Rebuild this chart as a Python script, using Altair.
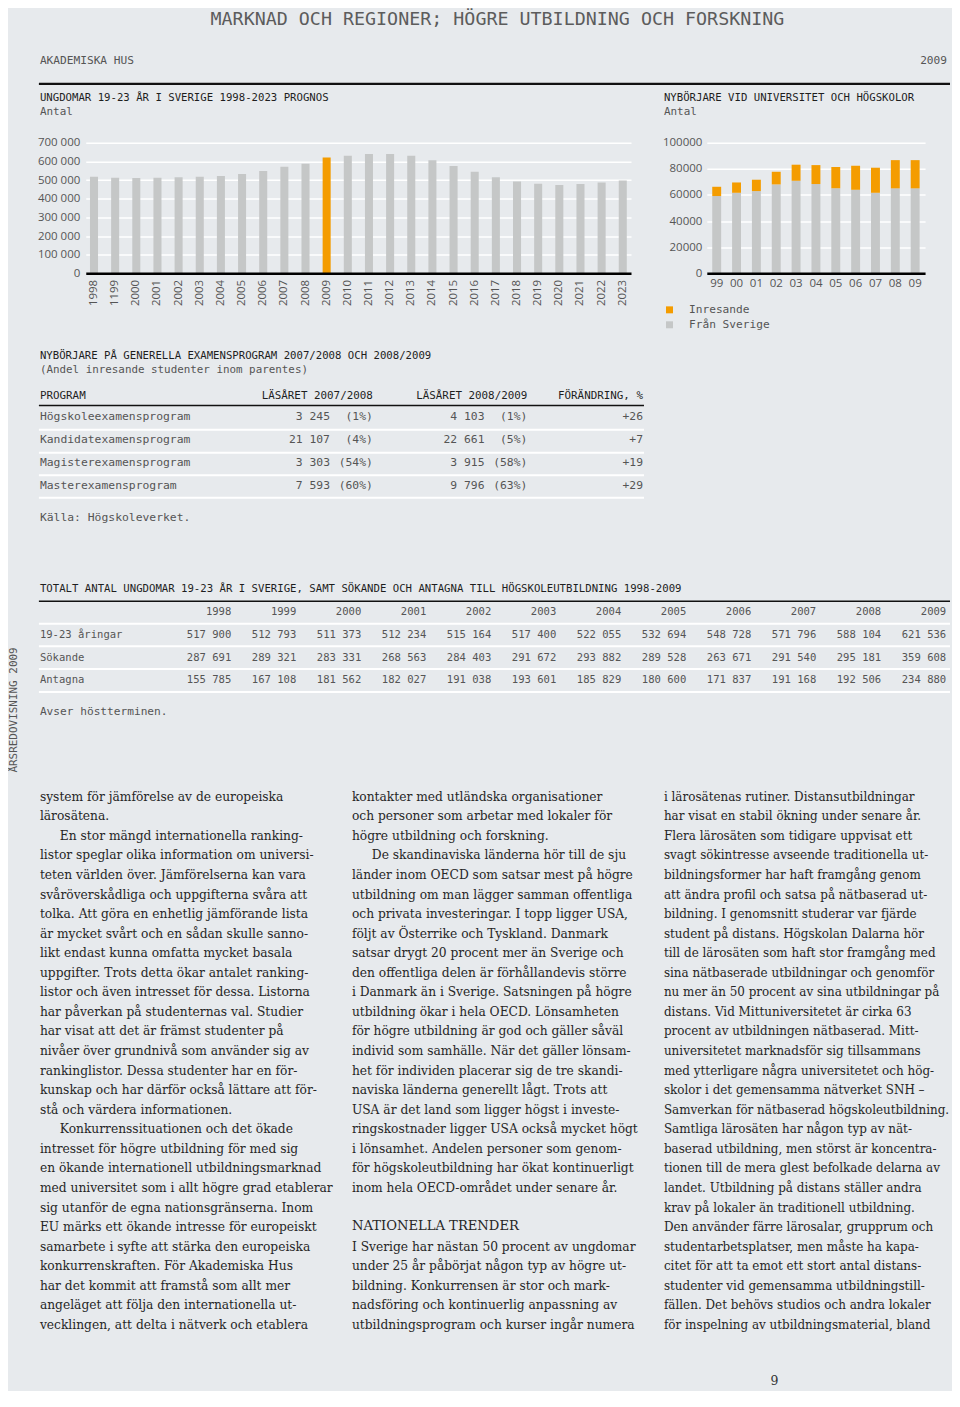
import altair as alt
import pandas as pd

# ---------------- texts & data ----------------
PAGE_TITLE = "MARKNAD OCH REGIONER; HÖGRE UTBILDNING OCH FORSKNING"
PUBLISHER = "AKADEMISKA HUS"
PUB_YEAR = "2009"
CHART1_TITLE = "UNGDOMAR 19-23 ÅR I SVERIGE 1998-2023 PROGNOS"
CHART2_TITLE = "NYBÖRJARE VID UNIVERSITET OCH HÖGSKOLOR"
UNIT = "Antal"
SIDE_TEXT = "ÅRSREDOVISNING 2009"
PAGE_NO = "9"

# Chart 1: 19-23 year olds (the reference labels 1999 as "1199")
years1 = ["1998", "1199", "2000", "2001", "2002", "2003", "2004", "2005", "2006",
          "2007", "2008", "2009", "2010", "2011", "2012", "2013", "2014", "2015",
          "2016", "2017", "2018", "2019", "2020", "2021", "2022", "2023"]
youth = [517900, 512793, 511373, 512234, 515164, 517400, 522055, 532694, 548728,
         571796, 588104, 621536, 630000, 640000, 640000, 631000, 606000, 576000,
         544000, 515000, 492000, 480000, 474000, 479000, 487000, 498000]
highlight_year = "2009"
y1_ticks = [0, 100000, 200000, 300000, 400000, 500000, 600000, 700000]

# Chart 2: new entrants
years2 = ["99", "00", "01", "02", "03", "04", "05", "06", "07", "08", "09"]
fran_sverige = [59200, 61700, 63000, 68100, 70900, 68400, 65100, 64000, 61700, 65100, 65100]
inresande = [7100, 7900, 8700, 9700, 12300, 14500, 16300, 18400, 19200, 21600, 21600]
series2 = ["Inresande", "Från Sverige"]
y2_ticks = [0, 20000, 40000, 60000, 80000, 100000]

# Table 1
T1_TITLE = "NYBÖRJARE PÅ GENERELLA EXAMENSPROGRAM 2007/2008 OCH 2008/2009"
T1_SUB = "(Andel inresande studenter inom parentes)"
t1_header = ["PROGRAM", "LÄSÅRET 2007/2008", "LÄSÅRET 2008/2009", "FÖRÄNDRING, %"]
programs = ["Högskoleexamensprogram", "Kandidatexamensprogram",
            "Magisterexamensprogram", "Masterexamensprogram"]
n0708 = ["3 245", "21 107", "3 303", "7 593"]
p0708 = ["(1%)", "(4%)", "(54%)", "(60%)"]
n0809 = ["4 103", "22 661", "3 915", "9 796"]
p0809 = ["(1%)", "(5%)", "(58%)", "(63%)"]
change = ["+26", "+7", "+19", "+29"]
T1_SOURCE = "Källa: Högskoleverket."

# Table 2
T2_TITLE = ("TOTALT ANTAL UNGDOMAR 19-23 ÅR I SVERIGE, SAMT SÖKANDE OCH ANTAGNA "
            "TILL HÖGSKOLEUTBILDNING 1998-2009")
t2_years = ["1998", "1999", "2000", "2001", "2002", "2003", "2004", "2005",
            "2006", "2007", "2008", "2009"]
t2_rows = ["19-23 åringar", "Sökande", "Antagna"]
aringar = ["517 900", "512 793", "511 373", "512 234", "515 164", "517 400",
           "522 055", "532 694", "548 728", "571 796", "588 104", "621 536"]
sokande = ["287 691", "289 321", "283 331", "268 563", "284 403", "291 672",
           "293 882", "289 528", "263 671", "291 540", "295 181", "359 608"]
antagna = ["155 785", "167 108", "181 562", "182 027", "191 038", "193 601",
           "185 829", "180 600", "171 837", "191 168", "192 506", "234 880"]
T2_NOTE = "Avser höstterminen."

# Body text
col1_lines = [
    "system för jämförelse av de europeiska",
    "lärosätena.",
    "En stor mängd internationella ranking-",
    "listor speglar olika information om universi-",
    "teten världen över. Jämförelserna kan vara",
    "svåröverskådliga och uppgifterna svåra att",
    "tolka. Att göra en enhetlig jämförande lista",
    "är mycket svårt och en sådan skulle sanno-",
    "likt endast kunna omfatta mycket basala",
    "uppgifter. Trots detta ökar antalet ranking-",
    "listor och även intresset för dessa. Listorna",
    "har påverkan på studenternas val. Studier",
    "har visat att det är främst studenter på",
    "nivåer över grundnivå som använder sig av",
    "rankinglistor. Dessa studenter har en för-",
    "kunskap och har därför också lättare att för-",
    "stå och värdera informationen.",
    "Konkurrenssituationen och det ökade",
    "intresset för högre utbildning för med sig",
    "en ökande internationell utbildningsmarknad",
    "med universitet som i allt högre grad etablerar",
    "sig utanför de egna nationsgränserna. Inom",
    "EU märks ett ökande intresse för europeiskt",
    "samarbete i syfte att stärka den europeiska",
    "konkurrenskraften. För Akademiska Hus",
    "har det kommit att framstå som allt mer",
    "angeläget att följa den internationella ut-",
    "vecklingen, att delta i nätverk och etablera",
]
col1_indents = [2, 17]
col2_lines_a = [
    "kontakter med utländska organisationer",
    "och personer som arbetar med lokaler för",
    "högre utbildning och forskning.",
    "De skandinaviska länderna hör till de sju",
    "länder inom OECD som satsar mest på högre",
    "utbildning om man lägger samman offentliga",
    "och privata investeringar. I topp ligger USA,",
    "följt av Österrike och Tyskland. Danmark",
    "satsar drygt 20 procent mer än Sverige och",
    "den offentliga delen är förhållandevis större",
    "i Danmark än i Sverige. Satsningen på högre",
    "utbildning ökar i hela OECD.  Lönsamheten",
    "för högre utbildning är god och gäller såväl",
    "individ som samhälle. När det gäller lönsam-",
    "het för individen placerar sig de tre skandi-",
    "naviska länderna generellt lågt. Trots att",
    "USA är det land som ligger högst i investe-",
    "ringskostnader ligger USA också mycket högt",
    "i lönsamhet. Andelen personer som genom-",
    "för högskoleutbildning har ökat kontinuerligt",
    "inom hela OECD-området under senare år.",
]
col2_indents = [3]
COL2_HEADING = "NATIONELLA TRENDER"
col2_lines_b = [
    "I Sverige har nästan 50 procent av ungdomar",
    "under 25 år påbörjat någon typ av högre ut-",
    "bildning. Konkurrensen är stor och mark-",
    "nadsföring och kontinuerlig anpassning av",
    "utbildningsprogram och kurser ingår numera",
]
col3_lines = [
    "i lärosätenas rutiner. Distansutbildningar",
    "har visat en stabil ökning under senare år.",
    "Flera lärosäten som tidigare uppvisat ett",
    "svagt sökintresse avseende traditionella ut-",
    "bildningsformer har haft framgång genom",
    "att ändra profil och satsa på nätbaserad ut-",
    "bildning. I genomsnitt studerar var fjärde",
    "student på distans. Högskolan Dalarna hör",
    "till de lärosäten som haft stor framgång med",
    "sina nätbaserade utbildningar och genomför",
    "nu mer än 50 procent av sina utbildningar på",
    "distans. Vid Mittuniversitetet är cirka 63",
    "procent av utbildningen nätbaserad. Mitt-",
    "universitetet marknadsför sig tillsammans",
    "med ytterligare några universitetet och hög-",
    "skolor i det gemensamma nätverket SNH –",
    "Samverkan för nätbaserad högskoleutbildning.",
    "Samtliga lärosäten har någon typ av nät-",
    "baserad utbildning, men störst är koncentra-",
    "tionen till de mera glest befolkade delarna av",
    "landet. Utbildning på distans ställer andra",
    "krav på lokaler än traditionell utbildning.",
    "Den använder färre lärosalar, grupprum och",
    "studentarbetsplatser, men måste ha kapa-",
    "citet för att ta emot ett stort antal distans-",
    "studenter vid gemensamma utbildningstill-",
    "fällen. Det behövs studios och andra lokaler",
    "för inspelning av utbildningsmaterial, bland",
]

# ---------------- style ----------------
BG = "#e7eaed"
BAR_GREY = "#c5c7c7"
ORANGE = "#f49c00"
GREY_TXT = "#555555"
DARK_TXT = "#1e1e1e"
BODY_TXT = "#262626"
MONO = "DejaVu Sans Mono"
SANS = "Open Sans"
SERIF = "DejaVu Serif"

W = 944
HA, HB = 133, 131
HC = 1383 - HA - HB


def txt(rows, size, color, font=MONO, align="left", baseline="middle", angle=0, weight="normal"):
    df = pd.DataFrame(rows, columns=["x", "y", "t"])
    return alt.Chart(df).mark_text(
        align=align, baseline=baseline, fontSize=size, font=font, color=color,
        angle=angle, fontWeight=weight
    ).encode(
        x=alt.X("x:Q", scale=None, axis=None),
        y=alt.Y("y:Q", scale=None, axis=None),
        text="t:N",
    )


def rules(rows, color, width):
    df = pd.DataFrame(rows, columns=["x", "x2", "y"])
    return alt.Chart(df).mark_rule(color=color, strokeWidth=width).encode(
        x=alt.X("x:Q", scale=None, axis=None),
        x2="x2:Q",
        y=alt.Y("y:Q", scale=None, axis=None),
    )


def spacer(w, h):
    return alt.Chart(pd.DataFrame({"t": [""]})).mark_text().encode(
        text="t:N", x=alt.value(0), y=alt.value(0)
    ).properties(width=w, height=h)


# ---------------- Row A: header ----------------
rowA = alt.layer(
    txt([(490, 15, PAGE_TITLE)], 18.4, "#5c5c5c", align="center", baseline="alphabetic"),
    txt([(31, 51, PUBLISHER)], 11.2, GREY_TXT),
    txt([(941, 51, PUB_YEAR)], 11.2, GREY_TXT, align="right"),
    rules([(30, W, 74)], "#111111", 2.2),
    txt([(31, 88, CHART1_TITLE), (657, 88, CHART2_TITLE)], 10.7, DARK_TXT),
    txt([(31, 102, UNIT), (657, 102, UNIT)], 11, GREY_TXT),
).properties(width=W, height=HA)

# ---------------- Row B: charts ----------------
df1 = pd.DataFrame({
    "year": years1,
    "value": youth,
    "grp": ["hl" if y == highlight_year else "base" for y in years1],
})
chart1 = alt.Chart(df1).mark_bar().encode(
    x=alt.X("year:N", sort=None,
            scale=alt.Scale(paddingInner=0.62, paddingOuter=0.2),
            axis=alt.Axis(title=None, labelAngle=-90, ticks=False, domainColor="#000000",
                          domainWidth=2.5, labelPadding=6, labelOverlap=False, zindex=1)),
    y=alt.Y("value:Q", scale=alt.Scale(domain=[0, 700000], nice=False),
            axis=alt.Axis(title=None, values=y1_ticks, domain=False, ticks=False,
                          labelExpr="replace(format(datum.value, ','), ',', ' ')",
                          gridColor="#ffffff", gridWidth=1.5, labelPadding=6,
                          labelFlush=False, labelOverlap=False)),
    color=alt.Color("grp:N", scale=alt.Scale(domain=["base", "hl"], range=[BAR_GREY, ORANGE]),
                    legend=None),
).properties(width=547, height=HB)

rows2 = []
for i, yr in enumerate(years2):
    rows2.append({"year": yr, "series": "Från Sverige", "value": fran_sverige[i], "ord": 0})
    rows2.append({"year": yr, "series": "Inresande", "value": inresande[i], "ord": 1})
df2 = pd.DataFrame(rows2)
chart2 = alt.Chart(df2).mark_bar().encode(
    x=alt.X("year:N", sort=None,
            scale=alt.Scale(paddingInner=0.55, paddingOuter=0.275),
            axis=alt.Axis(title=None, labelAngle=0, ticks=False, domainColor="#000000",
                          domainWidth=2.5, labelPadding=4, labelOverlap=False, zindex=1)),
    y=alt.Y("value:Q", stack="zero", scale=alt.Scale(domain=[0, 100000], nice=False),
            axis=alt.Axis(title=None, values=y2_ticks, format="d", domain=False, ticks=False,
                          gridColor="#ffffff", gridWidth=1.5, labelPadding=5,
                          labelFlush=False, labelOverlap=False)),
    color=alt.Color("series:N", scale=alt.Scale(domain=series2, range=[ORANGE, BAR_GREY]),
                    legend=alt.Legend(title=None, orient="none", legendX=-43, legendY=162,
                                      symbolType="square", symbolSize=49, symbolStrokeWidth=0,
                                      labelFont=MONO, labelFontSize=11.2, labelColor=GREY_TXT,
                                      rowPadding=3, padding=0, labelOffset=14)),
    order=alt.Order("ord:Q"),
).properties(width=219, height=HB)

rowB = alt.hconcat(spacer(77, HB), chart1, spacer(76, HB), chart2, spacer(25, HB),
                   spacing=0, bounds="flush").resolve_scale(
    color="independent"
).resolve_legend(color="independent")

# ---------------- Row C: tables and body text ----------------
# local y = page y - 272, local x = page x - 8
t1_row_y = [144.5, 167.5, 190.5, 213]
t1_layers = [
    txt([(31, 83, T1_TITLE)], 10.7, DARK_TXT),
    txt([(31, 97, T1_SUB)], 10.9, GREY_TXT),
    txt([(31, 123, t1_header[0])], 10.9, DARK_TXT),
    txt([(365, 123, t1_header[1]), (520, 123, t1_header[2]), (636, 123, t1_header[3])],
        10.9, DARK_TXT, align="right"),
    rules([(30, 637, 132.5)], "#111111", 1.5),
    rules([(30, 637, y) for y in [157, 180, 202.5, 225]], "#ffffff", 2),
    txt([(31, y, p) for y, p in zip(t1_row_y, programs)], 11.4, GREY_TXT),
    txt([(322, y, v) for y, v in zip(t1_row_y, n0708)]
        + [(365, y, v) for y, v in zip(t1_row_y, p0708)]
        + [(477, y, v) for y, v in zip(t1_row_y, n0809)]
        + [(520, y, v) for y, v in zip(t1_row_y, p0809)]
        + [(636, y, v) for y, v in zip(t1_row_y, change)],
        11.4, GREY_TXT, align="right"),
    txt([(31, 245, T1_SOURCE)], 11.4, GREY_TXT),
]

t2_col_x = [223 + 65.2 * k for k in range(12)]
t2_row_y = [362.5, 385.5, 408]
t2_vals = [aringar, sokande, antagna]
t2_cells = []
for ry, vals in zip(t2_row_y, t2_vals):
    for cx, v in zip(t2_col_x, vals):
        t2_cells.append((cx, ry, v))
t2_layers = [
    txt([(31, 317, T2_TITLE)], 10.7, DARK_TXT),
    rules([(30, W, 329)], "#111111", 1.5),
    rules([(30, W, y) for y in [351.5, 374, 397, 420]], "#ffffff", 2),
    txt([(cx, 339.5, yv) for cx, yv in zip(t2_col_x, t2_years)], 10.6, GREY_TXT, align="right"),
    txt([(31, y, r) for y, r in zip(t2_row_y, t2_rows)], 10.6, GREY_TXT),
    txt(t2_cells, 10.6, GREY_TXT, align="right"),
    txt([(31, 440.5, T2_NOTE)], 11.2, GREY_TXT),
]

LH = 19.63
Y0 = 525


def body_rows(lines, x0, start=0, indents=()):
    out = []
    for i, line in enumerate(lines):
        out.append((x0 + (20 if i in indents else 0), Y0 + LH * (start + i), line))
    return out


body_layers = [
    txt(body_rows(col1_lines, 31, 0, col1_indents)
        + body_rows(col2_lines_a, 344, 0, col2_indents)
        + body_rows(col2_lines_b, 344, 23),
        12.3, BODY_TXT, font=SERIF),
    txt(body_rows(col3_lines, 657, 0), 12.0, BODY_TXT, font=SERIF),
    txt([(344, Y0 + LH * 22 - 1.5, COL2_HEADING)], 13.2, BODY_TXT, font=SERIF),
    txt([(764, HC - 1, PAGE_NO)], 12.5, "#333333", font=SERIF, baseline="bottom"),
    txt([(5.5, 438, SIDE_TEXT)], 11, GREY_TXT, align="center", angle=270),
]

rowC = alt.layer(*(t1_layers + t2_layers + body_layers)).properties(width=W, height=HC)

# the nested chart row is laid out with zero height, so a spacer keeps its room
chart = alt.vconcat(rowA, rowB, spacer(W, HB), rowC, spacing=0, bounds="flush").properties(
    padding=0
).configure(
    background=BG,
).configure_view(
    strokeWidth=0,
).configure_axis(
    labelFont=SANS, labelFontSize=11.5, labelColor=GREY_TXT,
)

chart.save("out.html", embed_options={"renderer": "svg", "actions": False})
